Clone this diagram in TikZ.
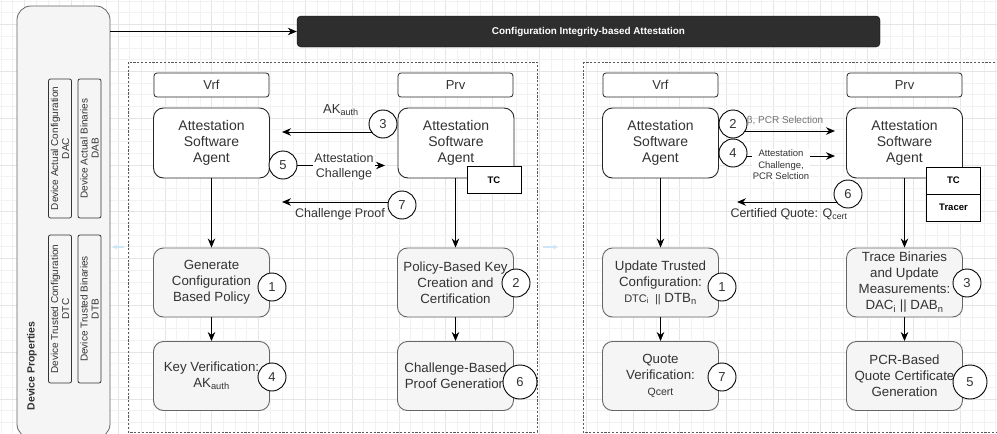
\documentclass[tikz,border=0pt]{standalone}
\usepackage{fontspec}
\setmainfont{Liberation Sans}
\usetikzlibrary{arrows.meta}
\definecolor{txt}{HTML}{333333}
\definecolor{procfill}{HTML}{F5F5F5}
\definecolor{procdraw}{HTML}{666666}
\definecolor{hint}{HTML}{CFE6F7}
\definecolor{titlefill}{HTML}{2E2E2E}
\newcommand\myfs[2]{\fontsize{#1}{#2}\selectfont}
\pgfdeclarelayer{gridlayer}
\pgfdeclarelayer{bglayer}
\pgfsetlayers{gridlayer,bglayer,main}
\begin{document}
\begin{tikzpicture}[x=1pt,y=-1pt,
  hdr/.style={draw=black!85, rounded corners=3pt, minimum width=115pt, minimum height=24pt, fill=white, font=\myfs{13}{15}, text=txt, line width=0.8pt},
  agent/.style={draw=black!85, rounded corners=10pt, minimum width=116pt, minimum height=70pt, fill=white, align=center, font=\myfs{14}{16}, text=txt, line width=0.9pt},
  proc/.style={draw=procdraw, fill=procfill, rounded corners=10pt, minimum width=116pt, minimum height=69pt, align=center, font=\myfs{13.3}{16}, text=txt, line width=0.9pt},
  num/.style={circle, draw=black, fill=white, minimum size=28pt, inner sep=0pt, font=\myfs{13}{15}, text=txt, line width=0.9pt},
  bignum/.style={num, minimum size=34pt},
  arr/.style={-{Stealth[length=9pt,width=7.5pt]}, line width=0.9pt, draw=black},
  tcbox/.style={draw=black, fill=white, minimum width=54pt, minimum height=27pt, inner sep=0pt, font=\bfseries\myfs{9.5}{11}, line width=0.9pt},
  side/.style={draw=black!80, fill=procfill, rounded corners=2pt, rotate=90, minimum height=23pt, inner sep=1pt, align=center, font=\myfs{10}{11}, text=txt, line width=0.8pt},
  panel/.style={draw=black!65, dash pattern=on 2.2pt off 1.6pt, line width=0.8pt},
  lbl/.style={inner sep=1pt, font=\myfs{12.5}{15}, text=txt, align=center},
]
\useasboundingbox (0,0) rectangle (997,434);
\clip (0,0) rectangle (997,434);

% background and grid
\begin{pgfonlayer}{gridlayer}
\fill[white] (0,0) rectangle (997,434);
\foreach \i in {0,...,85}{
  \pgfmathtruncatemacro\cc{mod(\i,4)==2 ? 10 : 5}
  \draw[black!\cc, line width=0.5pt] ({1+\i*11.7},0) -- ({1+\i*11.7},434);
}
\foreach \i in {0,...,37}{
  \pgfmathtruncatemacro\cc{mod(\i,4)==2 ? 10 : 5}
  \draw[black!\cc, line width=0.5pt] (0,{1+\i*11.7}) -- (997,{1+\i*11.7});
}
\end{pgfonlayer}

% device properties
\node[draw=procdraw, fill=procfill, rounded corners=14pt, minimum width=93pt, minimum height=432pt, line width=0.8pt] (dev) at (63.5,222) {};
\node[side, minimum width=139pt] (dac) at (60,148.5) {Device Actual Configuration\\DAC};
\node[side, minimum width=139pt] (dab) at (89.5,148.5) {Device Actual Binaries\\DAB};
\node[side, minimum width=148pt] (dtc) at (60,309) {Device Trusted Configuration\\DTC};
\node[side, minimum width=148pt] (dtb) at (89.5,309) {Device Trusted Binaries\\DTB};
\node[rotate=90, font=\bfseries\myfs{10.5}{12}, text=txt] (devlbl) at (32,366) {Device Properties};

% title
\node[fill=titlefill, draw=black, rounded corners=4pt, minimum width=583pt, minimum height=31pt, text=white, font=\bfseries\myfs{9.9}{11}] (title) at (588.5,31.5) {Configuration Integrity-based Attestation};
\draw[arr] (dev.east |- title.west) -- (title.west);

% panels
\draw[panel] (128,62) rectangle (537,432);
\draw[panel] (583,62) rectangle (1010,432);

% faint hint arrows
\coordinate (hA1) at (124,247); \coordinate (hA2) at (112,247);
\coordinate (hB1) at (543,247); \coordinate (hB2) at (558,247);
\draw[hint, line width=1.3pt, -{Stealth[length=5pt,width=5pt]}] (hA1) -- (hA2);
\draw[hint, line width=1.3pt, -{Stealth[length=5pt,width=5pt]}] (hB1) -- (hB2);

% ---------- left panel ----------
\node[hdr] (vrfA) at (211.5,85) {Vrf};
\node[hdr] (prvA) at (455.5,85) {Prv};
\node[agent] (agvA) at (211.5,143) {Attestation\\Software\\Agent};
\node[agent] (agpA) at (456,143) {Attestation\\Software\\Agent};
\node[tcbox] (tcA) at (494,180) {TC};
\node[proc] (genA) at (211.5,282.5) {Generate\\Configuration\\Based Policy};
\node[proc] (keyA) at (211.5,376) {Key Verification:\\AK\textsubscript{auth}};
\node[proc] (polA) at (455.5,282.5) {Policy-Based Key\\Creation and\\Certification};
\node[proc] (chbA) at (455.5,376) {Challenge-Based\\Proof Generation};

\draw[arr] (agvA) -- (genA);
\draw[arr] (genA) -- (keyA);
\draw[arr] (agpA.south -| polA.north) -- (polA.north);
\draw[arr] (polA) -- (chbA);

\node[num] (c3A) at (383,124) {3};
\node[num] (c5A) at (283,165) {5};
\node[num] (c7A) at (402,205) {7};
\node[num] (c1A) at (272,287) {1};
\node[num] (c4A) at (272,377) {4};
\node[num] (c2A) at (516,283) {2};
\node[bignum] (c6A) at (520,382) {6};

\node[lbl, font=\myfs{13}{15}] (akA) at (341,110) {AK\textsubscript{auth}};
\node[lbl, fill=white] (acA) at (344,167) {Attestation\\Challenge};
\node[lbl] (cpA) at (340,214) {Challenge Proof};

\coordinate (eA3) at (282,132);
\coordinate (eA5) at (385,165.5);
\coordinate (eA7) at (282,202);
\begin{pgfonlayer}{bglayer}
\draw[arr] (c3A.center |- eA3) -- (eA3);
\draw[arr] (c5A.center |- eA5) -- (eA5);
\draw[arr] (c7A.center |- eA7) -- (eA7);
\end{pgfonlayer}

% ---------- right panel ----------
\node[hdr] (vrfB) at (660.5,85) {Vrf};
\node[hdr] (prvB) at (904.5,85) {Prv};
\node[agent] (agvB) at (660.5,143) {Attestation\\Software\\Agent};
\node[agent] (agpB) at (904.5,143) {Attestation\\Software\\Agent};
\node[tcbox] (tcB) at (953.5,180.5) {TC};
\node[tcbox] (trB) at (953.5,207.5) {Tracer};
\node[proc] (updB) at (660.5,282.5) {Update Trusted\\Configuration:\\{\myfs{11}{16}DTC\textsubscript{i}}\,\ {\myfs{11}{16}||} DTB\textsubscript{n}};
\node[proc] (quoB) at (660.5,376) {Quote\\Verification:\\{\myfs{10.5}{16}Qcert}};
\node[proc] (trcB) at (904.5,282.5) {Trace Binaries\\and Update\\Measurements:\\DAC\textsubscript{i} || DAB\textsubscript{n}};
\node[proc] (pcrB) at (904.5,376) {PCR-Based\\Quote Certificate\\Generation};

\draw[arr] (agvB) -- (updB);
\draw[arr] (updB) -- (quoB);
\draw[arr] (agpB) -- (trcB);
\draw[arr] (trcB) -- (pcrB);

\node[num] (c2B) at (733,124) {2};
\node[num] (c4B) at (733,153) {4};
\node[num] (c6B) at (848,194) {6};
\node[num] (c1B) at (722,287) {1};
\node[num] (c7B) at (722,377) {7};
\node[num] (c3B) at (967,283) {3};
\node[bignum] (c5B) at (970,382) {5};

\node[lbl, text=black!55, font=\myfs{10}{12}] (betaB) at (785,121) {β, PCR Selection};
\node[lbl, fill=white, font=\myfs{9.5}{11.5}] (acB) at (781,165) {Attestation\\Challenge,\\PCR Selction};
\node[lbl] (cqB) at (789,214) {Certified Quote: Q\textsubscript{cert}};

\coordinate (eB2) at (835,131);
\coordinate (eB4) at (835,156);
\coordinate (eB6) at (737,202);
\begin{pgfonlayer}{bglayer}
\draw[arr] (c2B.center |- eB2) -- (eB2);
\draw[arr] (c4B.center |- eB4) -- (eB4);
\draw[arr] (c6B.center |- eB6) -- (eB6);
\end{pgfonlayer}
\end{tikzpicture}
\end{document}
